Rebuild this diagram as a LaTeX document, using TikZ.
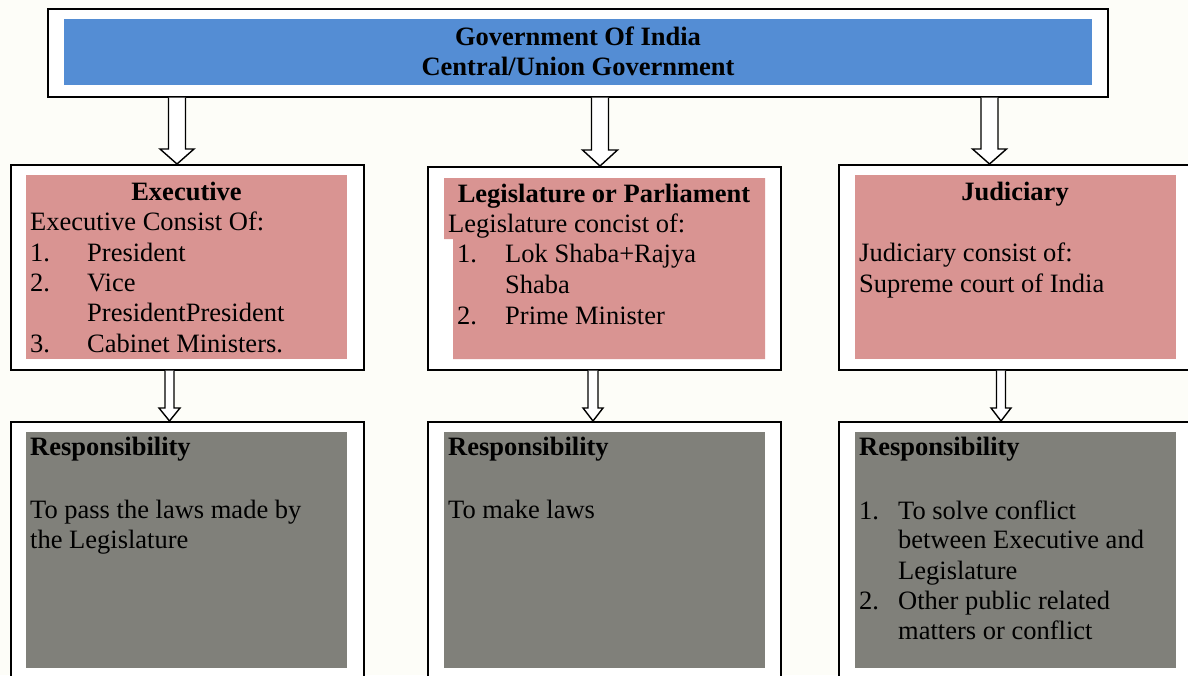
\documentclass[tikz,border=0pt]{standalone}
\usepackage{fontspec}
\setmainfont{Liberation Serif}
\usetikzlibrary{calc}
\definecolor{bgcream}{RGB}{253,253,248}
\definecolor{topblue}{RGB}{84,141,212}
\definecolor{boxpink}{RGB}{217,148,146}
\definecolor{boxgrey}{RGB}{128,128,122}
\newcommand\blkarrow[5]{%
  \draw[arrowline] let \p1=(#1), \p2=(#2) in
    (\x1-#3,\y1) -- (\x1-#3,\y2+#5) -- (\x1-#4,\y2+#5) -- (\x1,\y2)
    -- (\x1+#4,\y2+#5) -- (\x1+#3,\y2+#5) -- (\x1+#3,\y1);}
\begin{document}
\begin{tikzpicture}[x=1pt,y=-1pt,
  outerbox/.style={draw=black,line width=1.5pt,fill=white,anchor=north west,inner sep=0pt},
  fillbox/.style={anchor=north west,inner sep=0pt,draw=none},
  arrowline/.style={draw=black,line width=1.4pt,fill=white,line join=miter},
  txt/.style={anchor=base west,inner sep=0pt,font=\fontsize{26.5}{30}\selectfont},
  ttl/.style={anchor=base,inner sep=0pt,font=\fontsize{26.5}{30}\selectfont\bfseries},
  lbl/.style={anchor=base west,inner sep=0pt,font=\fontsize{26.5}{30}\selectfont\bfseries}]
\useasboundingbox (0,0) rectangle (1188,675);
\clip (0,0) rectangle (1188,675);
\fill[bgcream] (0,0) rectangle (1188,675);
% top box
\node[outerbox,minimum width=1060pt,minimum height=88pt] (top) at (47,8) {};
\node[fillbox,fill=topblue,minimum width=1028pt,minimum height=66pt] (topin) at (64,19) {};
\node[ttl] (t1) at (578,45) {Government Of India};
\node[ttl] (t2) at (578,75) {Central/Union Government};
% row 1 boxes
\node[outerbox,minimum width=353pt,minimum height=205pt] (exe) at (10,164) {};
\node[fillbox,fill=boxpink,minimum width=321pt,minimum height=184pt] (exein) at (26,175) {};
\node[outerbox,minimum width=353pt,minimum height=203pt] (leg) at (427,166) {};
\fill[boxpink] (444,178) -- (765,178) -- (765,359) -- (453,359) -- (453,239) -- (444,239) -- cycle;
\coordinate (legin) at (604.5,178);
\node[outerbox,minimum width=362pt,minimum height=205pt] (jud) at (838,164) {};
\node[fillbox,fill=boxpink,minimum width=321pt,minimum height=184pt] (judin) at (855,175) {};
% row 2 boxes
\node[outerbox,minimum width=353pt,minimum height=270pt] (r1) at (10,421) {};
\node[fillbox,fill=boxgrey,minimum width=321pt,minimum height=236pt] (r1in) at (26,432) {};
\node[outerbox,minimum width=353pt,minimum height=270pt] (r2) at (427,421) {};
\node[fillbox,fill=boxgrey,minimum width=321pt,minimum height=236pt] (r2in) at (444,432) {};
\node[outerbox,minimum width=362pt,minimum height=270pt] (r3) at (838,421) {};
\node[fillbox,fill=boxgrey,minimum width=321pt,minimum height=236pt] (r3in) at (855,432) {};
% executive text
\node[ttl] (e0) at (186.5,200) {Executive};
\node[txt] (e1) at (30,230) {Executive Consist Of:};
\node[txt] (e2n) at (30,261) {1.};
\node[txt] (e2) at (87,261) {President};
\node[txt] (e3n) at (30,291) {2.};
\node[txt] (e3) at (87,291) {Vice};
\node[txt] (e3b) at (87,321) {PresidentPresident};
\node[txt] (e4n) at (30,352) {3.};
\node[txt] (e4) at (87,352) {Cabinet Ministers.};
% legislature text
\node[ttl] (l0) at (604,202) {Legislature or Parliament};
\node[txt] (l1) at (448,232) {Legislature concist of:};
\node[txt] (l2n) at (457,262) {1.};
\node[txt] (l2) at (505,262) {Lok Shaba+Rajya};
\node[txt] (l2b) at (505,293) {Shaba};
\node[txt] (l3n) at (457,324) {2.};
\node[txt] (l3) at (505,324) {Prime Minister};
% judiciary text
\node[ttl] (j0) at (1015,200) {Judiciary};
\node[txt] (j1) at (859,261) {Judiciary consist of:};
\node[txt] (j2) at (859,292) {Supreme court of India};
% responsibilities
\node[lbl] (a0) at (30,455) {Responsibility};
\node[txt] (a1) at (30,518) {To pass the laws made by};
\node[txt] (a2) at (30,548) {the Legislature};
\node[lbl] (b0) at (448,455) {Responsibility};
\node[txt] (b1) at (448,518) {To make laws};
\node[lbl] (c0) at (859,455) {Responsibility};
\node[txt] (c1n) at (859,519) {1.};
\node[txt] (c1) at (898,519) {To solve conflict};
\node[txt] (c1b) at (898,548) {between Executive and};
\node[txt] (c1c) at (898,579) {Legislature};
\node[txt] (c2n) at (859,609) {2.};
\node[txt] (c2) at (898,609) {Other public related};
\node[txt] (c2b) at (898,639) {matters or conflict};
% arrows top -> row 1
\coordinate (a1s) at (top.south -| 177,0);
\coordinate (a1e) at (exe.north -| 177,0);
\coordinate (a2s) at (top.south -| 600,0);
\coordinate (a2e) at (leg.north -| 600,0);
\coordinate (a3s) at (top.south -| 989.5,0);
\coordinate (a3e) at (jud.north -| 989.5,0);
\blkarrow{a1s}{a1e}{8.5pt}{17pt}{15pt}
\blkarrow{a2s}{a2e}{8.5pt}{17.5pt}{16pt}
\blkarrow{a3s}{a3e}{8.5pt}{17pt}{15pt}
% arrows row 1 -> row 2
\coordinate (b1s) at (exe.south -| 169.5,0);
\coordinate (b1e) at (r1.north -| 169.5,0);
\coordinate (b2s) at (leg.south -| 593,0);
\coordinate (b2e) at (r2.north -| 593,0);
\coordinate (b3s) at (jud.south -| 1001,0);
\coordinate (b3e) at (r3.north -| 1001,0);
\blkarrow{b1s}{b1e}{4.5pt}{10.5pt}{13pt}
\blkarrow{b2s}{b2e}{5pt}{10pt}{13pt}
\blkarrow{b3s}{b3e}{4.5pt}{10pt}{13pt}
\end{tikzpicture}
\end{document}
